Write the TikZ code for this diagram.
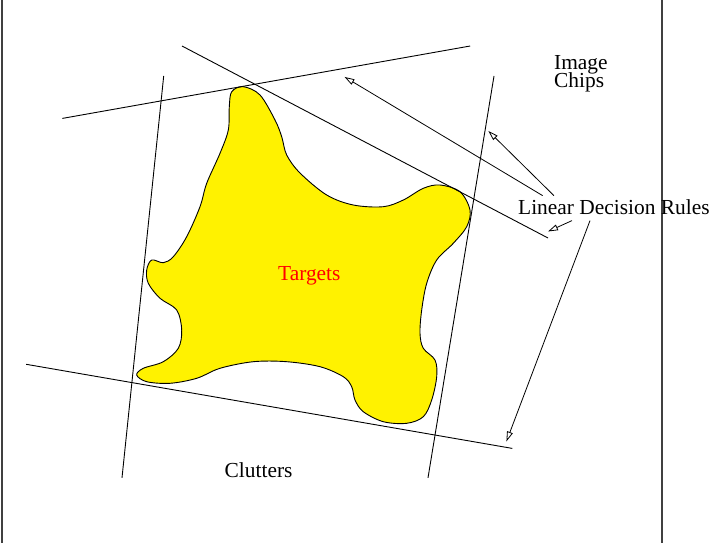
\documentclass[tikz,border=0pt]{standalone}
\usepackage{fontspec}
\setmainfont{Liberation Serif}
\usetikzlibrary{arrows.meta}
\begin{document}
\begin{tikzpicture}[x=1pt,y=-1pt,
  rule/.style={line width=0.9pt, black},
  pointer/.style={line width=0.8pt, black, -{Triangle[open,length=10pt,width=6pt]}},
  lbl/.style={inner sep=0pt, anchor=base west, font=\fontsize{21.4}{18}\selectfont},
  frame/.style={line width=1.2pt, black!75}]
\useasboundingbox (0,0) rectangle (709,543);
% frame
\draw[frame] (2,0) -- (2,543);
\draw[frame] (662,0) -- (662,543);
% target blob
\draw[line width=0.9pt, fill=yellow] plot[smooth cycle, tension=0.55] coordinates {
 (243.3,86.7) (260,95) (275,120) (281.7,136.7) (286.7,155) (300,173) (326.7,195)
 (353.3,205) (383.3,206.7) (403.3,200) (423.3,188.3) (440,185) (460,191.7) (470,210)
 (466.7,226.7) (453.3,243.3) (436.7,260) (426.7,283.3) (421.7,310) (420,333.3)
 (423.3,348.3) (435,360) (436.7,376.7) (431.7,400) (423.3,416.7) (406.7,423.3)
 (383.3,421.7) (363.3,411.7) (355,400) (351.7,386.7) (343.3,376.7) (320,366.7)
 (286.7,361.7) (253.3,361.7) (220,368.3) (196.7,378.3) (170,383.3) (146.7,381.7)
 (136.7,375) (143.3,368.3) (163.3,361.7) (178.3,348.3) (181.7,330) (176.7,310)
 (160,298.3) (148.3,283.3) (146.7,270) (151.7,260) (163.3,262.7) (173.3,256.7)
 (186.7,236.7) (200,206.7) (206.7,183.3) (220,153.3) (228.3,130) (229.3,106.7)
 (231.7,91.7)};
% decision rule lines
\coordinate (t1) at (62.4,118.4);  \coordinate (t2) at (470.2,46);
\coordinate (d1) at (182,46);      \coordinate (d2) at (548,238);
\coordinate (l1) at (163.7,76);    \coordinate (l2) at (122,477.8);
\coordinate (r1) at (494,76);      \coordinate (r2) at (428,477.8);
\coordinate (b1) at (26.2,364.3);  \coordinate (b2) at (512.3,448.4);
\draw[rule] (t1) -- (t2);
\draw[rule] (d1) -- (d2);
\draw[rule] (l1) -- (l2);
\draw[rule] (r1) -- (r2);
\draw[rule] (b1) -- (b2);
% labels
\node[lbl] (image) at (554,70) {Image};
\node[lbl] (chips) at (554,88) {Chips};
\node[lbl] (ldr) at (518,214) {Linear Decision Rules};
\node[lbl, text=red] (targets) at (278,280) {Targets};
\node[lbl] (clutters) at (224.5,477) {Clutters};
% pointers
\coordinate (a1s) at (542.6,195.6); \coordinate (a1e) at (344.5,76.9);
\coordinate (a2s) at (553.9,195.6); \coordinate (a2e) at (488.3,130.9);
\coordinate (a3s) at (572,220.6);   \coordinate (a3e) at (548,231.5);
\coordinate (a4s) at (590,220.6);   \coordinate (a4e) at (506.4,441.5);
\draw[pointer] (a1s) -- (a1e);
\draw[pointer] (a2s) -- (a2e);
\draw[pointer] (a3s) -- (a3e);
\draw[pointer] (a4s) -- (a4e);
\end{tikzpicture}
\end{document}
